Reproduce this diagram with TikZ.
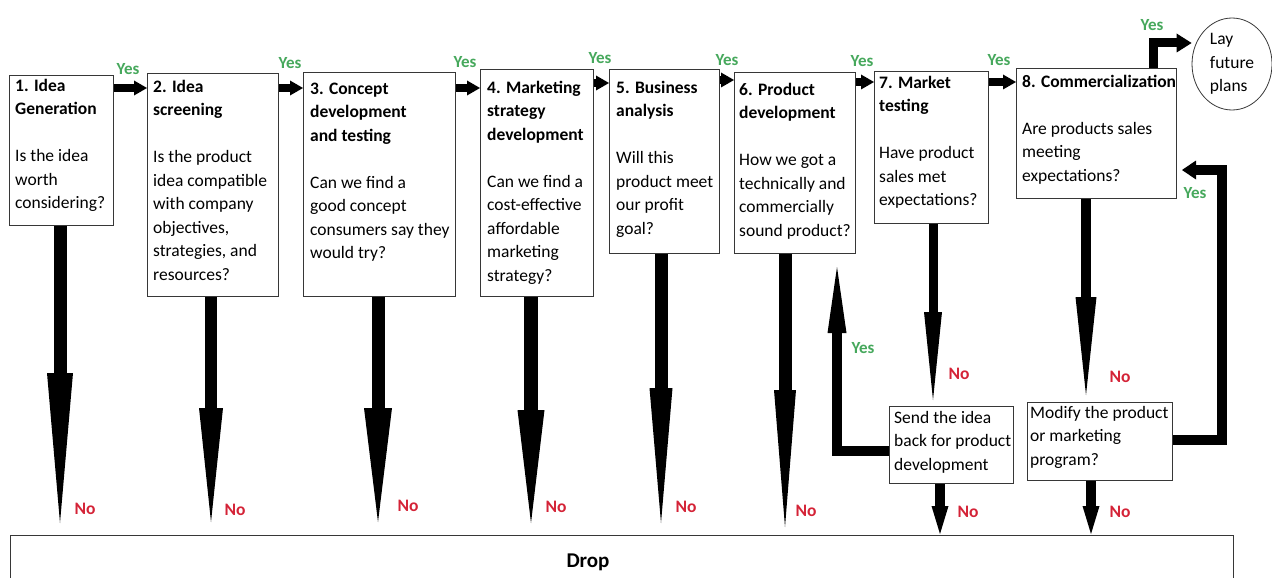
\documentclass[tikz,border=0pt]{standalone}
\usepackage{fontspec}
\setmainfont{Carlito}
\usetikzlibrary{arrows.meta,shapes.geometric,calc}
\definecolor{yesgreen}{RGB}{70,168,92}
\definecolor{nored}{RGB}{212,35,55}
\definecolor{edgegray}{RGB}{55,55,55}
\newcommand{\bodyfont}{\fontsize{17.5pt}{23.5pt}\selectfont}
\begin{document}
\begin{tikzpicture}[x=1pt,y=-1pt,
  stage/.style={draw=edgegray, line width=1pt, rectangle, inner sep=0pt, anchor=north west},
  txt/.style={anchor=north west, inner sep=0pt, align=left, font=\bodyfont},
  yeslbl/.style={text=yesgreen, font=\fontsize{17pt}{20pt}\selectfont\bfseries, inner sep=0pt},
  nolbl/.style={text=nored, font=\fontsize{17.5pt}{20pt}\selectfont\bfseries, inner sep=0pt},
  flowarrow/.style={line width=8pt, -{Triangle[length=13pt,width=15pt,line width=0pt]}},
  dropline/.style args={#1/#2/#3}{line width=#1, -{Triangle[length=#2,width=#3,line width=0pt]}}
  ]
\useasboundingbox (0,0) rectangle (1272,578);
\clip (0,0) rectangle (1272,578);

% stage boxes
\node[stage, minimum width=104pt, minimum height=150pt] (b1) at (9,75) {};
\node[stage, minimum width=131pt, minimum height=223pt] (b2) at (147,73) {};
\node[stage, minimum width=152pt, minimum height=224pt] (b3) at (303,72) {};
\node[stage, minimum width=113pt, minimum height=227pt] (b4) at (480,69) {};
\node[stage, minimum width=110pt, minimum height=184pt] (b5) at (609,69) {};
\node[stage, minimum width=121pt, minimum height=181pt] (b6) at (734,72) {};
\node[stage, minimum width=114pt, minimum height=152pt] (b7) at (874,71) {};
\node[stage, minimum width=160pt, minimum height=130pt] (b8) at (1016,68) {};
\node[stage, minimum width=124pt, minimum height=77pt] (send) at (889,406) {};
\node[stage, minimum width=145pt, minimum height=78pt] (mod) at (1027,402) {};
\node[stage, minimum width=1223pt, minimum height=90pt] (drop) at (10,535) {};
\node[draw=edgegray, line width=0.8pt, ellipse, minimum width=80pt, minimum height=92pt,
      inner sep=0pt, align=left, font=\bodyfont] (lay) at (1232,64) {Lay\\future\\plans};

% texts
\node[txt] (t1) at (15,74.5) {\strut\textbf{1. Idea}\\\textbf{Generation}\\[23.5pt]Is the idea\\worth\\considering?};
\node[txt] (t2) at (153,75.5) {\strut\textbf{2. Idea}\\\textbf{screening}\\[23.5pt]Is the product\\idea compatible\\with company\\objectives,\\strategies, and\\resources?};
\node[txt] (t3) at (310,77.5) {\strut\textbf{3. Concept}\\\textbf{development}\\\textbf{and testing}\\[23.5pt]Can we find a\\good concept\\consumers say they\\would try?};
\node[txt] (t4) at (487,76.5) {\strut\textbf{4. Marketing}\\\textbf{strategy}\\\textbf{development}\\[23.5pt]Can we find a\\cost-effective\\affordable\\marketing\\strategy?};
\node[txt] (t5) at (616,76.5) {\strut\textbf{5. Business}\\\textbf{analysis}\\[23.5pt]Will this\\product meet\\our profit\\goal?};
\node[txt] (t6) at (739,78.5) {\strut\textbf{6. Product}\\\textbf{development}\\[23.5pt]How we got a\\technically and\\commercially\\sound product?};
\node[txt] (t7) at (879,71.5) {\strut\textbf{7. Market}\\\textbf{testing}\\[23.5pt]Have product\\sales met\\expectations?};
\node[txt] (t8) at (1022,70.5) {\strut\textbf{8. Commercialization}\\[23.5pt]Are products sales\\meeting\\expectations?};
\node[txt] (tsend) at (894,406.5) {\strut Send the idea\\back for product\\development};
\node[txt] (tmod) at (1030,401.5) {\strut Modify the product\\or marketing\\program?};
\node[anchor=base, inner sep=0pt, font=\fontsize{21pt}{24pt}\selectfont\bfseries] (droptxt) at (588,567) {Drop};

% yes arrows between stages
\draw[flowarrow] (b1.east |- 0,88) -- (b2.west |- 0,88);
\draw[flowarrow] (b2.east |- 0,88) -- (b3.west |- 0,88);
\draw[flowarrow] (b3.east |- 0,88) -- (b4.west |- 0,88);
\draw[flowarrow] (b4.east |- 0,83) -- (b5.west |- 0,83);
\draw[flowarrow] (b5.east |- 0,80) -- (b6.west |- 0,80);
\draw[flowarrow] (b6.east |- 0,82) -- (b7.west |- 0,82);
\draw[flowarrow] (b7.east |- 0,82) -- (b8.west |- 0,82);
\draw[line width=9pt, -{Triangle[length=15pt,width=19pt,line width=0pt]}]
  (b8.north -| 1153,0) |- (lay.west |- 0,43);

% drop arrow tips
\coordinate (e1) at (60,523);
\coordinate (e2) at (211,522);
\coordinate (e3) at (378,522);
\coordinate (e4) at (531,523);
\coordinate (e5) at (661,523);
\coordinate (e6) at (785,527);
\coordinate (e7) at (933,400);
\coordinate (e8) at (1086,395);
\coordinate (es) at (940,534);
\coordinate (em) at (1091,534);
\coordinate (k6) at (837,267);
\coordinate (k8) at (1182,170);

\draw[dropline={13pt/150pt/26pt}] (b1.south -| e1) -- (e1);
\draw[dropline={12pt/114pt/24pt}] (b2.south -| e2) -- (e2);
\draw[dropline={13pt/114pt/28pt}] (b3.south -| e3) -- (e3);
\draw[dropline={14pt/113pt/27pt}] (b4.south -| e4) -- (e4);
\draw[dropline={13pt/135pt/23pt}] (b5.south -| e5) -- (e5);
\draw[dropline={13pt/137pt/22pt}] (b6.south -| e6) -- (e6);
\draw[dropline={9pt/88pt/18pt}] (b7.south -| e7) -- (e7);
\draw[dropline={10pt/98pt/21pt}] (b8.south -| e8) -- (e8);
\draw[dropline={10pt/28pt/17pt}] (send.south -| es) -- (es);
\draw[dropline={10pt/28pt/17pt}] (mod.south -| em) -- (em);

% loop-back arrows
\draw[line width=10pt, -{Triangle[length=66pt,width=19pt,line width=0pt]}]
  (send.west |- 0,451) -| (k6);
\draw[line width=10pt, -{Triangle[length=14pt,width=19pt,line width=0pt]}]
  (mod.east |- 0,440) -- ++(49,0) |- (k8);

% labels
\node[yeslbl] (y1) at (128,69) {Yes};
\node[yeslbl] (y2) at (290,63) {Yes};
\node[yeslbl] (y3) at (465,62) {Yes};
\node[yeslbl] (y4) at (600,58) {Yes};
\node[yeslbl] (y5) at (727,60) {Yes};
\node[yeslbl] (y6) at (862,61) {Yes};
\node[yeslbl] (y7) at (999,60) {Yes};
\node[yeslbl] (y8) at (1152,25) {Yes};
\node[yeslbl] (y9) at (1195,193) {Yes};
\node[yeslbl] (y10) at (863,348) {Yes};

\node[nolbl] (n1) at (85,509) {No};
\node[nolbl] (n2) at (235,510) {No};
\node[nolbl] (n3) at (408,506) {No};
\node[nolbl] (n4) at (556,507) {No};
\node[nolbl] (n5) at (686,507) {No};
\node[nolbl] (n6) at (806,511) {No};
\node[nolbl] (n7) at (959,374) {No};
\node[nolbl] (n8) at (1120,377) {No};
\node[nolbl] (n9) at (968,512) {No};
\node[nolbl] (n10) at (1120,512) {No};
\end{tikzpicture}
\end{document}
